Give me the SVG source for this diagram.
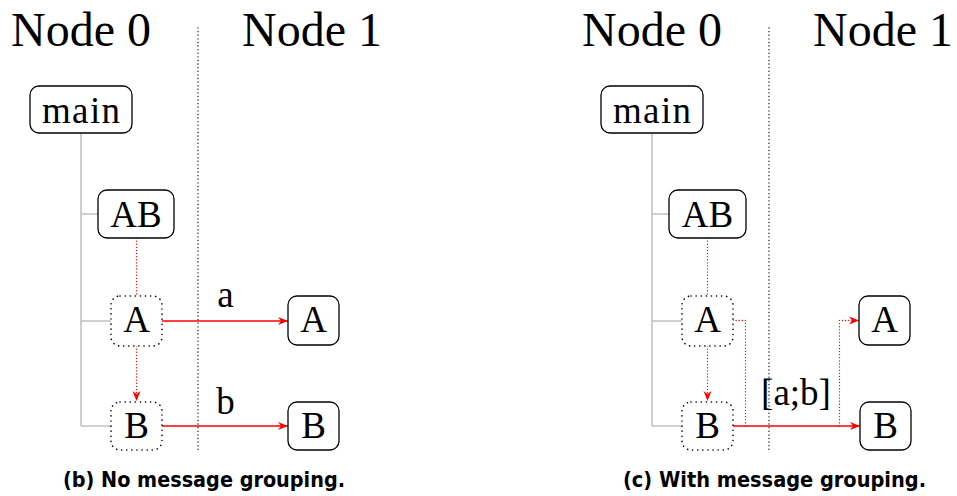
<svg xmlns="http://www.w3.org/2000/svg" width="957" height="496" viewBox="0 0 957 496">
<defs>
<style>
.hd{font-family:'Liberation Serif','Times New Roman',serif;font-size:48px;fill:#000;text-anchor:middle}
.nt{font-family:'Liberation Serif','Times New Roman',serif;font-size:37px;fill:#000;text-anchor:middle}
.cap{font-family:'DejaVu Sans','Liberation Sans',sans-serif;font-weight:bold;font-size:21px;fill:#000;text-anchor:middle}
.box{fill:#fff;stroke:#000;stroke-width:1.3}
.dbox{fill:#fff;stroke:#000;stroke-width:1.6;stroke-dasharray:0.1 5;stroke-linecap:round}
.div{fill:none;stroke:#000;stroke-width:1.3;stroke-dasharray:0.1 3.5;stroke-linecap:round}
.tree{fill:none;stroke:#c0c0c0;stroke-width:1.5}
.msg{fill:none;stroke:#ff0000;stroke-width:1.5}
.dep{fill:none;stroke:#ff0000;stroke-width:1.3;stroke-dasharray:0.1 3;stroke-linecap:round}
</style>
<marker id="ah" markerUnits="userSpaceOnUse" markerWidth="11" markerHeight="10" refX="10" refY="5" orient="auto">
<path d="M0,1 L10,5 L0,9 L3,5 z" fill="#ff0000"/>
</marker>
</defs>

<!-- Left panel: No message grouping -->
<g id="left-headers">
<text class="hd" x="81" y="46">Node 0</text>
<text class="hd" x="312" y="46">Node 1</text>
<line class="div" x1="198" y1="28" x2="198" y2="450"/>
</g>
<g id="left-tree">
<path class="tree" d="M81,133 V426 M81,214 H98 M81,321 H111 M81,426 H111"/>
</g>
<g id="left-connectors">
<line class="dep" x1="136.5" y1="238" x2="136.5" y2="296"/>
<line class="dep" x1="136.5" y1="346" x2="136.5" y2="401" marker-end="url(#ah)"/>
<line class="msg" x1="162" y1="321" x2="288" y2="321" marker-end="url(#ah)"/>
<line class="msg" x1="162" y1="426" x2="288" y2="426" marker-end="url(#ah)"/>
<text class="nt" x="225.5" y="307">a</text>
<text class="nt" x="225.5" y="414">b</text>
</g>
<g id="l-main"><rect class="box" x="30" y="86" width="102" height="47" rx="9"/><text class="nt" x="81" y="123" textLength="78">main</text></g>
<g id="l-AB"><rect class="box" x="98" y="190" width="76" height="48" rx="9"/><text class="nt" x="136" y="227">AB</text></g>
<g id="l-A0"><rect class="dbox" x="111" y="296" width="51" height="50" rx="9"/><text class="nt" x="136.5" y="332">A</text></g>
<g id="l-B0"><rect class="dbox" x="111" y="402" width="51" height="48" rx="9"/><text class="nt" x="136.5" y="438">B</text></g>
<g id="l-A1"><rect class="box" x="288" y="296" width="51" height="49" rx="9"/><text class="nt" x="313.5" y="332">A</text></g>
<g id="l-B1"><rect class="box" x="288" y="402" width="51" height="48" rx="9"/><text class="nt" x="313.5" y="438">B</text></g>
<text class="cap" x="204" y="487" textLength="282" lengthAdjust="spacingAndGlyphs">(b) No message grouping.</text>

<!-- Right panel: With message grouping -->
<g id="right-headers">
<text class="hd" x="652" y="46">Node 0</text>
<text class="hd" x="883" y="46">Node 1</text>
<line class="div" x1="769" y1="28" x2="769" y2="450"/>
</g>
<g id="right-tree">
<path class="tree" d="M652,133 V426 M652,214 H669 M652,321 H682 M652,426 H682"/>
</g>
<g id="right-connectors">
<line class="dep" x1="707.5" y1="238" x2="707.5" y2="296"/>
<line class="dep" x1="707.5" y1="346" x2="707.5" y2="401" marker-end="url(#ah)"/>
<path class="dep" d="M733,320.5 H745.5 V426"/>
<line class="msg" x1="733" y1="426" x2="860" y2="426" marker-end="url(#ah)"/>
<path class="dep" d="M839.5,426 V320.5 H859" marker-end="url(#ah)"/>
<text class="nt" x="796" y="405">[a;b]</text>
</g>
<g id="r-main"><rect class="box" x="601" y="86" width="102" height="47" rx="9"/><text class="nt" x="652" y="123" textLength="78">main</text></g>
<g id="r-AB"><rect class="box" x="669" y="190" width="77" height="48" rx="9"/><text class="nt" x="707.5" y="227">AB</text></g>
<g id="r-A0"><rect class="dbox" x="682" y="296" width="51" height="50" rx="9"/><text class="nt" x="707.5" y="332">A</text></g>
<g id="r-B0"><rect class="dbox" x="682" y="402" width="51" height="48" rx="9"/><text class="nt" x="707.5" y="438">B</text></g>
<g id="r-A1"><rect class="box" x="859" y="296" width="51" height="49" rx="9"/><text class="nt" x="884.5" y="332">A</text></g>
<g id="r-B1"><rect class="box" x="860" y="402" width="51" height="48" rx="9"/><text class="nt" x="885.5" y="438">B</text></g>
<text class="cap" x="774.5" y="487" textLength="303" lengthAdjust="spacingAndGlyphs">(c) With message grouping.</text>
</svg>
